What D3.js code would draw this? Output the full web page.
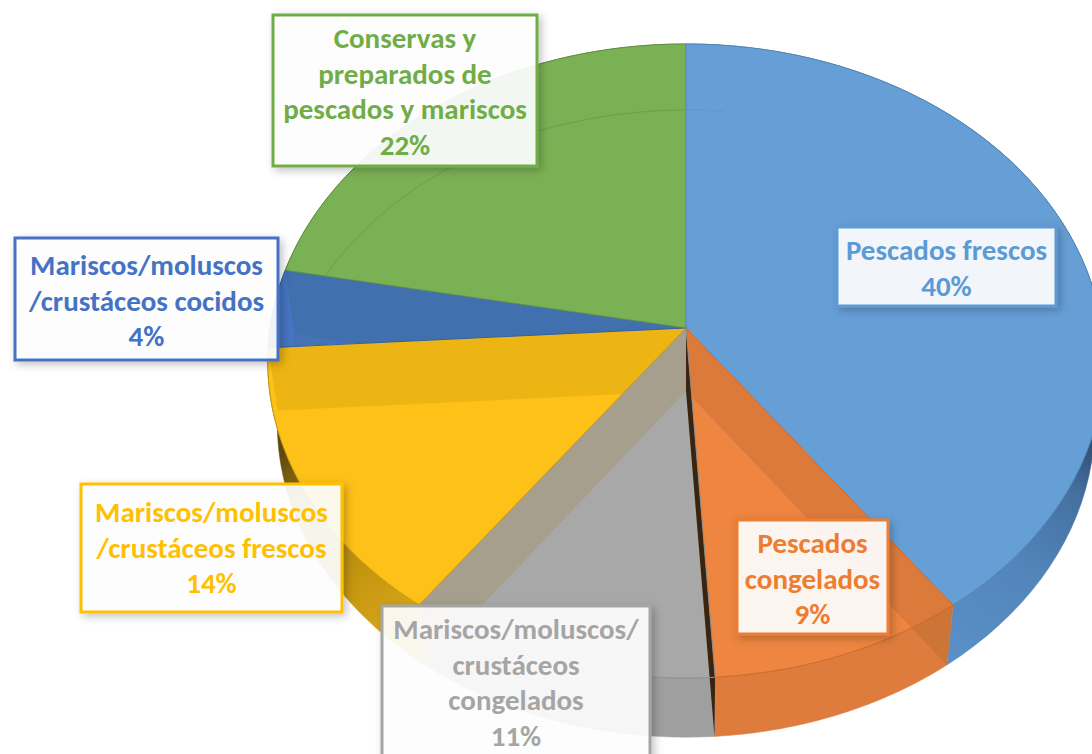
<!DOCTYPE html>
<html><head><meta charset="utf-8">
<script src="https://cdn.jsdelivr.net/npm/d3@7"></script>
<style>html,body{margin:0;padding:0;background:#fff;overflow:hidden}svg{display:block}</style>
</head><body><svg id="c" width="1092" height="754"></svg>
<script>
const categories = ["Pescados frescos","Pescados congelados","Mariscos/moluscos/crustáceos congelados","Mariscos/moluscos/crustáceos frescos","Mariscos/moluscos/crustáceos cocidos","Conservas y preparados de pescados y mariscos"];
const values = [40,9,11,14,4,22];
const labelLines = [["Pescados frescos"],["Pescados","congelados"],["Mariscos/moluscos/","crustáceos","congelados"],["Mariscos/moluscos","/crustáceos frescos"],["Mariscos/moluscos","/crustáceos cocidos"],["Conservas y","preparados de","pescados y mariscos"]];
const textColors = ["#5B9BD5","#ED7D31","#A5A5A5","#FFC000","#4472C4","#70AD47"];
const topColors = ["#669FD6","#EE8540","#A8A8A8","#FDC118","#4473B6","#7BB155"];
const rimLines = ["#4F86BC","#C9682A","#8E8E8E","#C79A10","#38619E","#5E8F42"];
const bandColors = [null,"#DC7A3C","#A69F8E","#ECB513","#4A7BC8",null];
const boxes = [[837,227,219,79],[737,520,151,114],[382,606,268,170],[81,484,261,128],[15,238,263,122],[273,15,264,151]];
const textTop = [260,553,639,522,275,48];

const svg = d3.select("#c");
const cx = 686, cyTop = 328, cyLow = 391, A = 416, B = 313.6, P = 0.104, sxLow = 0.977, syLow = 0.989;
const pie = d3.pie().sort(null)(values);

const project = (t, r, low) => {
  const u = r*Math.sin(t), v = -r*Math.cos(t), w = 1 - P*v;
  return low ? [cx + sxLow*A*u/w, cyLow + syLow*B*v/w] : [cx + A*u/w, cyTop + B*v/w];
};
const arcPts = (a0, a1, low) => d3.range(0, 61).map(i => project(a0 + (a1-a0)*i/60, 1, low));
const line = d3.line();
const rad = d => d*Math.PI/180;

const defs = svg.append("defs");
const grad = (id, x1, y1, x2, y2, stops) => {
  const g = defs.append("linearGradient").attr("id", id).attr("gradientUnits","userSpaceOnUse")
    .attr("x1",x1).attr("y1",y1).attr("x2",x2).attr("y2",y2);
  stops.forEach(s => g.append("stop").attr("offset",s[0]).attr("stop-color",s[1]));
};
grad("wBlue", 945, 660, 1092, 440, [[0,"#5A90C8"],[0.45,"#5285BA"],[0.8,"#44709F"],[1,"#2F4C70"]]);
grad("wYellow", 275, 460, 430, 640, [[0,"#5E480E"],[0.22,"#A27A10"],[0.6,"#C4960F"],[1,"#E0AE20"]]);
const wallFill = ["url(#wBlue)","#DD7C3C","#9F9F9F","url(#wYellow)","#3A5F9A","#5E8F42"];
const shadow = defs.append("filter").attr("id","sh").attr("x","-10%").attr("y","-10%").attr("width","125%").attr("height","125%");
shadow.append("feDropShadow").attr("dx",3).attr("dy",3).attr("stdDeviation",4).attr("flood-color","#000").attr("flood-opacity",0.25);

const wallPath = d => line([...arcPts(d.startAngle,d.endAngle,false), ...arcPts(d.startAngle,d.endAngle,true).reverse()])+"Z";
const topPath = d => line([[cx,cyTop], ...arcPts(d.startAngle,d.endAngle,false)])+"Z";
const bandPath = a => line([[cx,cyTop], project(a,1,false), project(a,1,true), [cx,cyLow]])+"Z";

pie.forEach((d,i) => {
  defs.append("clipPath").attr("id","top"+i).append("path").attr("d", topPath(d));
});
defs.append("clipPath").attr("id","orangeBand").append("path").attr("d", bandPath(pie[1].startAngle));

// outer side walls
pie.forEach((d,i) => {
  svg.append("path").attr("d", wallPath(d)).attr("fill", wallFill[i]).attr("stroke", wallFill[i]).attr("stroke-width",0.5);
});
// top faces
pie.forEach((d,i) => {
  svg.append("path").attr("d", topPath(d)).attr("fill", topColors[i]);
});
// radial walls seen through the translucent top
const band = (angle, color, clipIdx) => {
  const p = svg.append("path").attr("d", bandPath(angle)).attr("fill", color);
  if (clipIdx !== null) p.attr("clip-path",`url(#top${clipIdx})`);
};
band(pie[4].startAngle, bandColors[3], 3);
band(pie[3].startAngle, bandColors[2], null);
band(pie[1].startAngle, bandColors[1], null);
band(pie[5].startAngle, "#4070AE", 4);
// orange band over the side wall, darker
svg.append("path").attr("d", wallPath(pie[1])).attr("fill","#CD7437").attr("clip-path","url(#orangeBand)");
// lighter tip of the dark blue slice
svg.append("path")
  .attr("d", line([...arcPts(pie[4].startAngle,pie[4].endAngle,false), project(pie[4].endAngle,1,true), project(pie[4].startAngle,1,true)])+"Z")
  .attr("fill","#4675C2").attr("clip-path","url(#top4)");
// dark sliver between gray and orange
band(pie[2].startAngle, "#3A2410", null);

// rim and seams
pie.forEach((d,i) => {
  svg.append("path").attr("d", line(arcPts(d.startAngle,d.endAngle,false)))
    .attr("fill","none").attr("stroke",rimLines[i]).attr("stroke-width",1);
  svg.append("path").attr("d", line([[cx,cyTop], project(d.startAngle,1,false)]))
    .attr("fill","none").attr("stroke",rimLines[i]).attr("stroke-width",1);
});
// far lower rim, seen faintly through the top
svg.append("path").attr("d", line(arcPts(pie[5].startAngle+0.03, pie[5].endAngle, true)))
  .attr("fill","none").attr("stroke","#6C9E4B").attr("stroke-width",1).attr("clip-path","url(#top5)");
svg.append("path").attr("d", line(arcPts(0, rad(6), true)))
  .attr("fill","none").attr("stroke","#5F97CD").attr("stroke-width",1);

// labels
const pct = d3.format(".0f");
const fontFam = "Carlito, Lato, 'Open Sans', sans-serif";
const fs = 29, lh = 35.7;
pie.forEach((d,i) => {
  const [x,y,w,h] = boxes[i];
  svg.append("rect").attr("x",x).attr("y",y).attr("width",w).attr("height",h)
    .attr("fill","#fff").attr("fill-opacity",0.91).attr("stroke",textColors[i]).attr("stroke-width",3)
    .attr("filter","url(#sh)");
  const lines = [...labelLines[i], pct(values[i])+"%"];
  const t = svg.append("text").attr("text-anchor","middle").attr("font-family",fontFam)
    .attr("font-weight",700).attr("font-size",fs).attr("fill",textColors[i]);
  lines.forEach((s,j) => {
    t.append("tspan").attr("x",x+w/2).attr("y",textTop[i]+j*lh).text(s);
  });
});
</script></body></html>
